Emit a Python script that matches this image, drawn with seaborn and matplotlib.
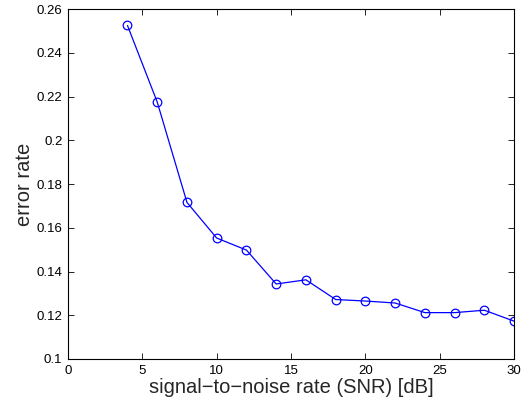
import numpy as np
import pandas as pd
import matplotlib
matplotlib.use("Agg")
import matplotlib.pyplot as plt
import seaborn as sns

# SNR levels and measured error rate
snr_db = [4, 6, 8, 10, 12, 14, 16, 18, 20, 22, 24, 26, 28, 30]
error_rate = [0.2525, 0.2175, 0.1716, 0.1553, 0.1498, 0.1343, 0.1362,
              0.1272, 0.1265, 0.1256, 0.1212, 0.1212, 0.1223, 0.1173]

x_ticks = [0, 5, 10, 15, 20, 25, 30]
y_ticks = [0.1, 0.12, 0.14, 0.16, 0.18, 0.2, 0.22, 0.24, 0.26]
y_tick_labels = ["0.1", "0.12", "0.14", "0.16", "0.18", "0.2", "0.22", "0.24", "0.26"]

df = pd.DataFrame({"snr": snr_db, "err": error_rate})

sns.set_style("ticks")
plt.rcParams["font.family"] = ["Liberation Sans", "DejaVu Sans"]

fig = plt.figure(figsize=(5.23, 4.05), dpi=100)
ax = fig.add_axes([0.130, 0.1136, 0.853, 0.864])

sns.lineplot(data=df, x="snr", y="err", ax=ax, color="#0000ff",
             linewidth=0.9, marker="o", markersize=6.2,
             markerfacecolor="none", markeredgecolor="#0000ff",
             markeredgewidth=0.9)

ax.set_xlim(0, 30)
ax.set_ylim(0.1, 0.26)
ax.set_xticks(x_ticks)
ax.set_xticklabels([str(t) for t in x_ticks])
ax.set_yticks(y_ticks)
ax.set_yticklabels(y_tick_labels)
ax.tick_params(direction="in", length=4, width=0.6, labelsize=9.5,
               top=True, right=True, colors="black", pad=4)
for side in ax.spines.values():
    side.set_visible(True)
    side.set_linewidth(0.8)
    side.set_color("black")

ax.set_xlabel("signal\u2212to\u2212noise rate (SNR) [dB]", fontsize=14.5, labelpad=1)
ax.set_ylabel("error rate", fontsize=14.5, labelpad=2)

fig.savefig("out.png", dpi=100)
